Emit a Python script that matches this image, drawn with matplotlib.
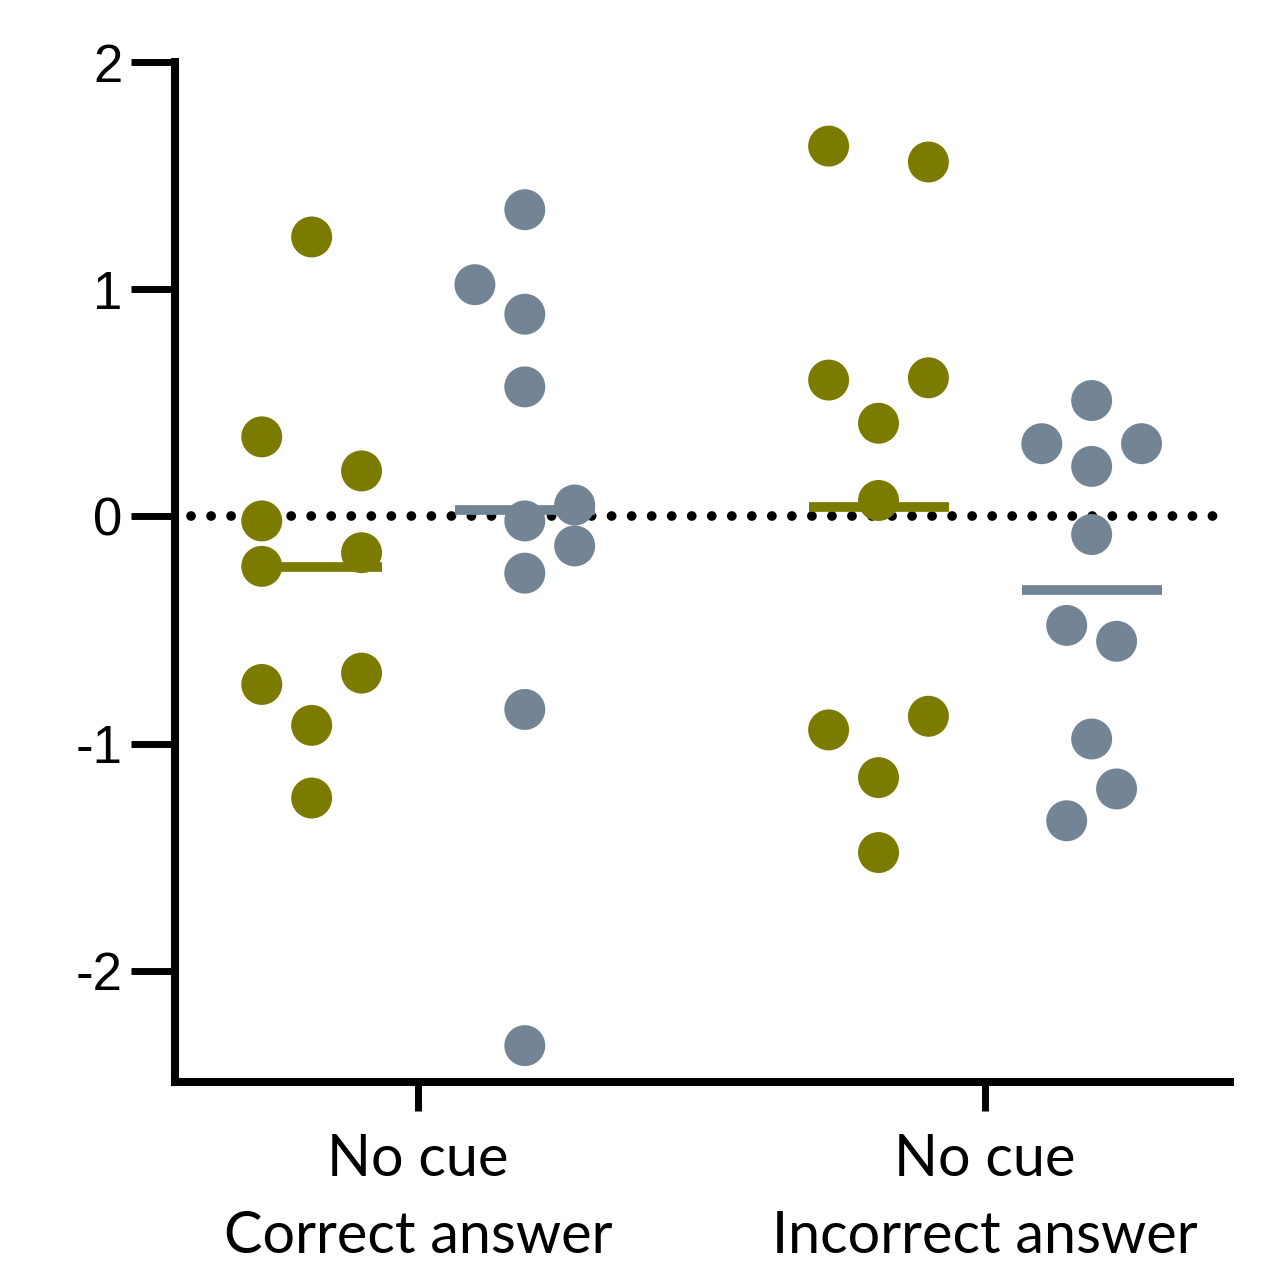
import numpy as np
import matplotlib.pyplot as plt

# values (one list per group / colour)
correct_green = [1.23, 0.35, 0.20, -0.02, -0.16, -0.22, -0.74, -0.69, -0.92, -1.24]
correct_grey = [1.35, 1.02, 0.89, 0.57, 0.05, -0.02, -0.13, -0.25, -0.85, -2.33]
incorrect_green = [1.63, 1.56, 0.60, 0.61, 0.41, 0.07, -0.94, -0.88, -1.15, -1.48]
incorrect_grey = [0.51, 0.32, 0.32, 0.22, -0.08, -0.48, -0.55, -0.98, -1.20, -1.34]

# swarm columns for each point (layout only)
slots_correct_green = [0, -1, 1, -1, 1, -1, -1, 1, 0, 0]
slots_correct_grey = [0, -1, 0, 0, 1, 0, 1, 0, 0, 0]
slots_incorrect_green = [-1, 1, -1, 1, 0, 0, -1, 1, 0, 0]
slots_incorrect_grey = [0, -1, 1, 0, 0, -0.5, 0.5, 0, 0.5, -0.5]

group_labels = ["No cue\nCorrect answer", "No cue\nIncorrect answer"]

green = "#7b7b00"
grey = "#738595"

fig = plt.figure(figsize=(12.73, 12.64), dpi=100)
ax = fig.add_axes([0.1375, 0.144, 0.8287, 0.8069])

side = 0.188
step = 0.088
half = 0.1235

series = [
    (1 - side, correct_green, slots_correct_green, green),
    (1 + side, correct_grey, slots_correct_grey, grey),
    (2 - side, incorrect_green, slots_incorrect_green, green),
    (2 + side, incorrect_grey, slots_incorrect_grey, grey),
]

ax.axhline(0, xmin=0.015, xmax=0.985, color="black", lw=7,
           linestyle=(0, (0.01, 2.05)), dash_capstyle="round", zorder=1)

for xc, vals, slots, col in series:
    vals = np.array(vals)
    xs = xc + np.array(slots) * step
    m = vals.mean()
    ax.plot([xc - half, xc + half], [m, m], color=col, lw=7,
            solid_capstyle="butt", zorder=2)
    ax.scatter(xs, vals, s=870, color=col, edgecolors="none", zorder=3)

ax.set_xlim(0.571, 2.432)
ax.set_ylim(-2.49, 2.0)
ax.set_yticks([-2, -1, 0, 1, 2])
ax.set_yticklabels(["-2", "-1", "0", "1", "2"], fontfamily="Liberation Sans", fontsize=38)
ax.set_xticks([1, 2])
ax.set_xticklabels(group_labels, fontfamily="Lato", fontsize=41.5, linespacing=1.55)

for s in ["top", "right"]:
    ax.spines[s].set_visible(False)
for s in ["left", "bottom"]:
    ax.spines[s].set_linewidth(5.8)
ax.tick_params(axis="y", length=32, width=5, pad=6)
ax.tick_params(axis="x", length=21, width=5, pad=16)

fig.savefig("out.png", dpi=100, facecolor="white")
